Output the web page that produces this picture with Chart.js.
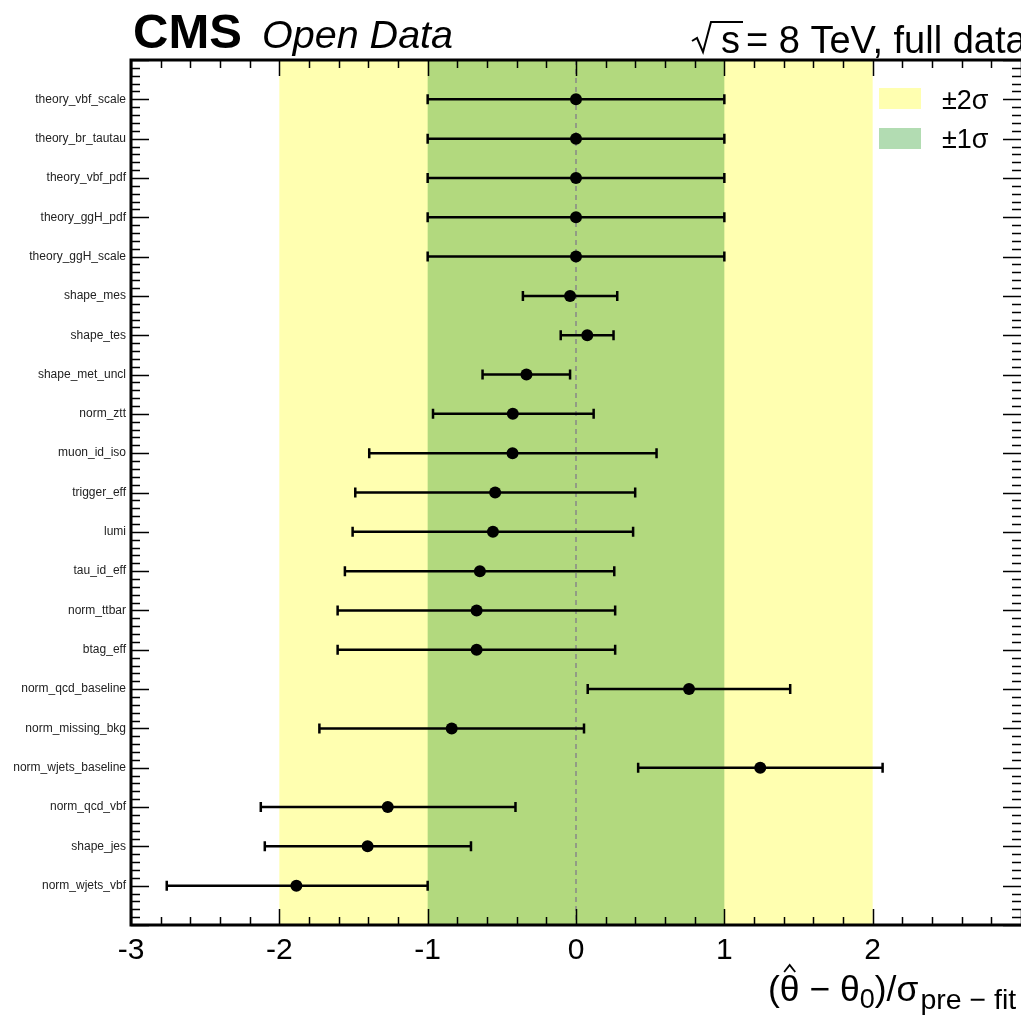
<!DOCTYPE html>
<html lang="en">
<head>
<meta charset="UTF-8">
<title>Nuisance parameter pulls</title>
<style>
  body {
    margin: 0;
    background: #fff;
    overflow: hidden;
  }
  canvas {
    display: block;
  }
</style>
</head>
<body>
<canvas id="pulls" width="1021" height="1025"></canvas>
<script src="https://cdn.jsdelivr.net/npm/chart.js"></script>
<script>
  // nuisance parameters, top to bottom
  const params = [
    'theory_vbf_scale', 'theory_br_tautau', 'theory_vbf_pdf', 'theory_ggH_pdf',
    'theory_ggH_scale', 'shape_mes', 'shape_tes', 'shape_met_uncl', 'norm_ztt',
    'muon_id_iso', 'trigger_eff', 'lumi', 'tau_id_eff', 'norm_ttbar', 'btag_eff',
    'norm_qcd_baseline', 'norm_missing_bkg', 'norm_wjets_baseline', 'norm_qcd_vbf',
    'shape_jes', 'norm_wjets_vbf'
  ];
  // post-fit pull and the lower / upper edge of its uncertainty
  const pulls = [0, 0, 0, 0, 0, -0.04, 0.076, -0.334, -0.426, -0.428, -0.545, -0.56,
    -0.648, -0.67, -0.67, 0.762, -0.838, 1.242, -1.269, -1.405, -1.885];
  const lowEdge = [-1, -1, -1, -1, -1, -0.358, -0.103, -0.63, -0.964, -1.394, -1.488,
    -1.506, -1.558, -1.607, -1.607, 0.079, -1.73, 0.419, -2.125, -2.098, -2.759];
  const highEdge = [1, 1, 1, 1, 1, 0.278, 0.253, -0.04, 0.119, 0.543, 0.399, 0.385,
    0.258, 0.264, 0.264, 1.444, 0.054, 2.067, -0.408, -0.708, -1.0];
  // labelled x ticks (the axis runs on to 3, its label falls off the edge)
  const xTicks = [-3, -2, -1, 0, 1, 2];
  const xRange = [-3, 3];
  const sigmaBands = [2, 1];
  const bandLabels = ['±2σ', '±1σ'];

  const yellow = 'rgb(255,255,176)';
  const greenOnYellow = 'rgb(178,217,126)';
  const greenLegend = 'rgb(178,220,178)';
  const FONT = '"Liberation Sans", Arial, Helvetica, sans-serif';

  // sigma bands and the dashed zero line behind the points
  const bandPlugin = {
    id: 'bands',
    beforeDatasetsDraw(chart) {
      const { ctx, chartArea: a, scales: { x } } = chart;
      ctx.save();
      ctx.fillStyle = yellow;
      ctx.fillRect(x.getPixelForValue(-sigmaBands[0]), a.top,
        x.getPixelForValue(sigmaBands[0]) - x.getPixelForValue(-sigmaBands[0]), a.bottom - a.top);
      ctx.fillStyle = greenOnYellow;
      ctx.fillRect(x.getPixelForValue(-sigmaBands[1]), a.top,
        x.getPixelForValue(sigmaBands[1]) - x.getPixelForValue(-sigmaBands[1]), a.bottom - a.top);
      const x0 = x.getPixelForValue(0);
      ctx.strokeStyle = '#888';
      ctx.lineWidth = 1.5;
      ctx.setLineDash([5, 4]);
      ctx.beginPath();
      ctx.moveTo(x0, a.top);
      ctx.lineTo(x0, a.bottom);
      ctx.stroke();
      ctx.restore();
    }
  };

  // horizontal error bars with end caps
  const errorBarPlugin = {
    id: 'errorBars',
    beforeDatasetsDraw(chart) {
      const { ctx, scales: { x, y } } = chart;
      ctx.save();
      ctx.strokeStyle = '#000';
      ctx.lineWidth = 2.5;
      params.forEach((p, i) => {
        const py = y.getPixelForValue(i + 1);
        const x1 = x.getPixelForValue(lowEdge[i]);
        const x2 = x.getPixelForValue(highEdge[i]);
        ctx.beginPath();
        ctx.moveTo(x1, py); ctx.lineTo(x2, py);
        ctx.moveTo(x1, py - 5); ctx.lineTo(x1, py + 5);
        ctx.moveTo(x2, py - 5); ctx.lineTo(x2, py + 5);
        ctx.stroke();
      });
      ctx.restore();
    }
  };

  // ROOT style frame with inward ticks on all four sides
  const framePlugin = {
    id: 'frame',
    afterDatasetsDraw(chart) {
      const { ctx, chartArea: a, scales: { x, y } } = chart;
      ctx.save();
      ctx.strokeStyle = '#000';
      ctx.lineWidth = 1.5;
      ctx.beginPath();
      for (let i = 0; i <= 30; i++) {
        const v = xRange[0] + i * 0.2;
        const px = Math.round(x.getPixelForValue(v)) + 0.5;
        const len = i % 5 === 0 ? 16 : 8;
        ctx.moveTo(px, a.bottom); ctx.lineTo(px, a.bottom - len);
        ctx.moveTo(px, a.top); ctx.lineTo(px, a.top + len);
      }
      for (let j = 0; j <= 110; j++) {
        const v = j * 0.2;
        const py = Math.round(y.getPixelForValue(v)) + 0.5;
        const len = j % 5 === 0 ? 18 : 9;
        ctx.moveTo(a.left, py); ctx.lineTo(a.left + len, py);
        ctx.moveTo(a.right, py); ctx.lineTo(a.right - len, py);
      }
      ctx.stroke();
      // the right border sits on the page edge, so only three sides are stroked
      ctx.lineWidth = 3;
      ctx.beginPath();
      ctx.moveTo(a.right, a.top);
      ctx.lineTo(a.left, a.top);
      ctx.lineTo(a.left, a.bottom);
      ctx.lineTo(a.right, a.bottom);
      ctx.stroke();
      ctx.restore();
    }
  };

  // header, legend and axis title
  const textPlugin = {
    id: 'texts',
    afterDraw(chart) {
      const { ctx } = chart;
      ctx.save();
      ctx.fillStyle = '#000';
      ctx.textBaseline = 'alphabetic';
      ctx.textAlign = 'left';

      ctx.font = 'bold 49px ' + FONT;
      ctx.fillText('CMS', 133, 48);
      ctx.font = 'italic 39.5px ' + FONT;
      ctx.fillText('Open Data', 262, 48);

      // sqrt(s) = 8 TeV
      ctx.strokeStyle = '#000';
      ctx.lineWidth = 2;
      ctx.beginPath();
      ctx.moveTo(692, 41);
      ctx.lineTo(697, 38);
      ctx.lineTo(703, 52);
      ctx.lineTo(711, 22);
      ctx.lineTo(743, 22);
      ctx.stroke();
      ctx.font = '38px ' + FONT;
      ctx.fillText('s', 721, 53);
      ctx.fillText('= 8 TeV, full dataset', 746, 53);

      // legend
      ctx.fillStyle = yellow;
      ctx.fillRect(879, 88, 42, 21);
      ctx.fillStyle = greenLegend;
      ctx.fillRect(879, 128, 42, 21);
      ctx.fillStyle = '#000';
      ctx.font = '27px ' + FONT;
      ctx.fillText(bandLabels[0], 942, 109);
      ctx.fillText(bandLabels[1], 942, 148);

      // (theta_hat - theta_0) / sigma_pre-fit
      const big = '35.5px ' + FONT;
      const small = '27px ' + FONT;
      let cx = 768;
      const base = 1001;
      const put = (t, f, dy) => {
        ctx.font = f;
        ctx.fillText(t, cx, base + dy);
        const w = ctx.measureText(t).width;
        cx += w;
        return w;
      };
      put('(', big, 0);
      const thStart = cx;
      const thW = put('θ', big, 0);
      ctx.lineWidth = 1.8;
      ctx.beginPath();
      ctx.moveTo(thStart + thW * 0.22, base - 29);
      ctx.lineTo(thStart + thW * 0.5, base - 36);
      ctx.lineTo(thStart + thW * 0.78, base - 29);
      ctx.stroke();
      put(' \u2212 θ', big, 0);
      put('0', small, 7);
      put(')/σ', big, 0);
      cx += 2;
      put('pre \u2212 fit', '28.5px ' + FONT, 8);
      ctx.restore();
    }
  };

  new Chart(document.getElementById('pulls'), {
    type: 'scatter',
    data: {
      datasets: [{
        data: pulls.map((v, i) => ({ x: v, y: i + 1 })),
        backgroundColor: '#000',
        borderWidth: 0,
        pointRadius: 6
      }]
    },
    options: {
      responsive: false,
      animation: false,
      devicePixelRatio: 1,
      layout: { autoPadding: false, padding: { top: 60, left: 0, right: 0, bottom: 0 } },
      plugins: { legend: { display: false }, tooltip: { enabled: false } },
      scales: {
        x: {
          type: 'linear',
          min: xRange[0],
          max: xRange[1],
          afterFit(scale) { scale.height = 100; },
          afterBuildTicks(scale) { scale.ticks = xTicks.map(v => ({ value: v })); },
          grid: { display: false, drawTicks: false },
          border: { display: false },
          ticks: {
            color: '#000',
            padding: 8,
            maxRotation: 0,
            font: { family: FONT, size: 30 },
            callback: v => String(v)
          }
        },
        y: {
          type: 'linear',
          reverse: true,
          min: 0,
          max: params.length + 1,
          afterFit(scale) { scale.width = 131; },
          afterBuildTicks(scale) { scale.ticks = params.map((p, i) => ({ value: i + 1 })); },
          grid: { display: false, drawTicks: false },
          border: { display: false },
          ticks: {
            color: '#222',
            padding: 5,
            autoSkip: false,
            font: { family: FONT, size: 12 },
            callback: v => params[v - 1]
          }
        }
      }
    },
    plugins: [bandPlugin, errorBarPlugin, framePlugin, textPlugin]
  });
</script>
</body>
</html>
